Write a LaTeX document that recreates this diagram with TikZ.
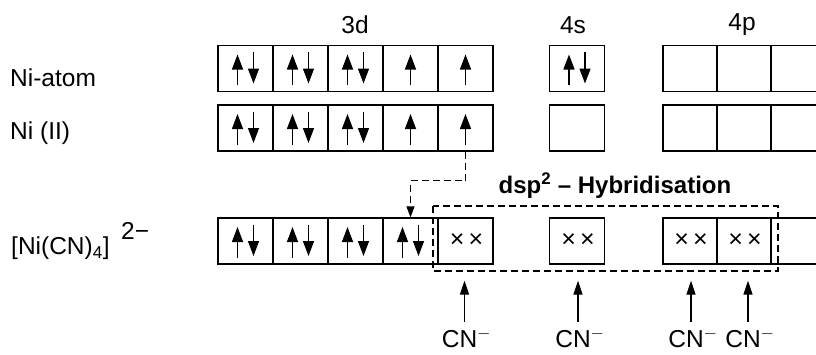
\documentclass[tikz,border=0pt]{standalone}
\usepackage{fontspec}
\setmainfont{Liberation Sans}
\usetikzlibrary{arrows.meta,positioning,calc}
\tikzset{
  orb/.style={rectangle, draw, line width=1.3pt, minimum width=55pt,
              minimum height=46pt, inner sep=0pt},
  spin/.style={-{Triangle[length=15pt,width=11pt]}, line width=1.4pt},
  lbl/.style={font=\fontsize{24.5}{28}\selectfont, inner sep=0pt},
  xmark/.style={font=\fontsize{25}{30}\selectfont, inner sep=0pt},
  ligand/.style={-{Triangle[length=14pt,width=9pt]}, line width=1.3pt},
  hyb/.style={line width=1.2pt, dash pattern=on 7pt off 4pt},
  spinpair/.pic={
    \draw[spin] (-8,16.5) -- (-8,-14);
    \draw[spin] (8,-16.5) -- (8,15);
  },
  spinone/.pic={
    \draw[spin] (0,16.5) -- (0,-14);
  },
}

\begin{document}
\begin{tikzpicture}[x=1pt,y=-1pt]
  \useasboundingbox (0,0) rectangle (816,354);
  \clip (0,0) rectangle (816,354);

  % shell headings
  \node[lbl] (h3d) at (355,25) {3d};
  \node[lbl] (h4s) at (573,25) {4s};
  \node[lbl] (h4p) at (742,25) {4p};

  % row labels
  \node[lbl,anchor=west] (lnia) at (10,78) {Ni-atom};
  \node[lbl,anchor=west] (lnib) at (10,133) {Ni (II)};
  \node[lbl,anchor=west] (lnic) at (11,248) {[Ni(CN)\textsubscript{4}]};
  \node[lbl,anchor=west] (lchg) at (121,231) {2−};

  % orbital boxes: a = Ni-atom, b = Ni(II), c = complex
  \foreach \r/\y in {a/68.5, b/128, c/241}{
    \foreach \i in {1,...,5}
      \node[orb] (\r d\i) at ({190.5+55*\i},\y) {};
    \node[orb] (\r s) at (577,\y) {};
    \foreach \i in {1,2,3}
      \node[orb, minimum width=54pt] (\r p\i) at ({636+54*\i},\y) {};
  }

  % electrons
  \foreach \n in {ad1,ad2,ad3,as,bd1,bd2,bd3,cd1,cd2,cd3,cd4}
    \pic at (\n.center) {spinpair};
  \foreach \n in {ad4,ad5,bd4,bd5}
    \pic at (\n.center) {spinone};

  % ligand pairs
  \foreach \n in {cd5,cs,cp1,cp2}
    \node[xmark] (x\n) at ($(\n.center)+(1,0)$) {×\hspace{4pt}×};

  % pairing shift
  \draw[hyb,-{Triangle[length=11pt,width=8pt]}] (bd5.south) -- ++(0,29) -| (cd4.north);

  % hybrid set
  \node[font=\bfseries\fontsize{24}{28}\selectfont, inner sep=0pt] (thyb) at (615,186)
    {dsp\textsuperscript{2} – Hybridisation};
  \draw[hyb] (433,206) rectangle (778,271);

  % CN- donors
  \foreach \n/\dx in {cd5/-1, cs/1, cp1/1, cp2/4}{
    \node[lbl] (cn\n) at ($(\n.center)+(\dx+2,97)$) {CN$^{\mathbf{-}}$};
    \draw[ligand] ($(\n.south)+(\dx,57)$) -- ($(\n.south)+(\dx,16)$);
  }
\end{tikzpicture}
\end{document}
